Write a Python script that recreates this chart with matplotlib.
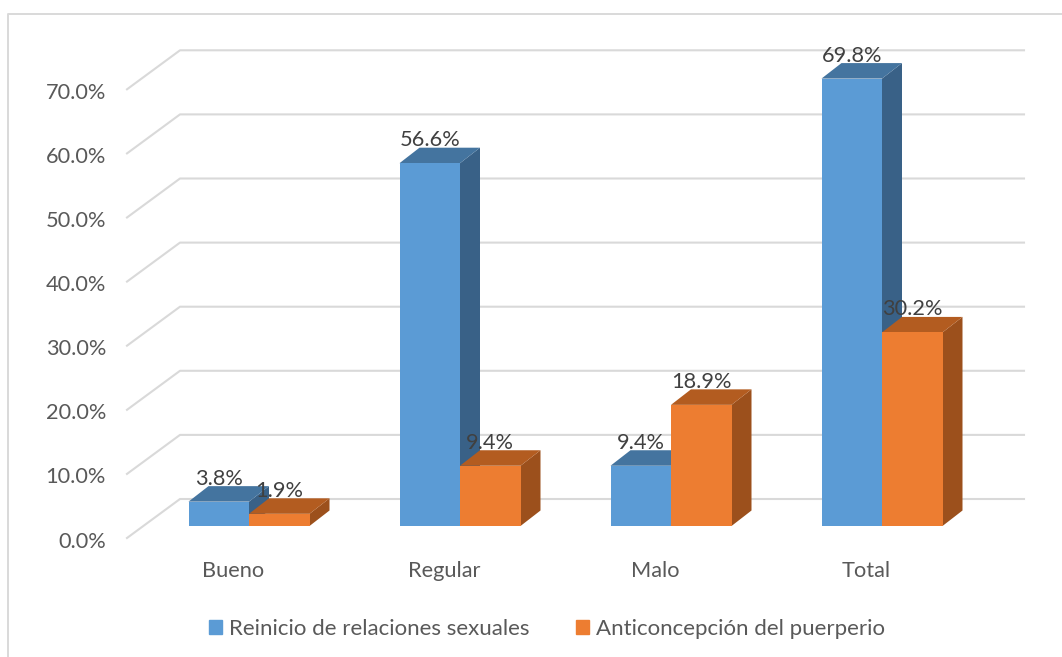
import matplotlib
matplotlib.use("Agg")
import matplotlib.pyplot as plt
from matplotlib.patches import Polygon, Patch, Rectangle

plt.rcParams['font.family'] = ['Lato', 'DejaVu Sans']

categories = ['Bueno', 'Regular', 'Malo', 'Total']
reinicio = [3.8, 56.6, 9.4, 69.8]
anticoncepcion = [1.9, 9.4, 18.9, 30.2]
y_ticks = [0, 10, 20, 30, 40, 50, 60, 70]
series_names = ['Reinicio de relaciones sexuales', 'Anticoncepción del puerperio']

# axes fills the figure, one x unit = one category, y unit = one percent
PX_X = 211.0
PX_Y = 6.41
W, H = 1062, 657
BAR_W = 60.5 / PX_X
DX = 20 / PX_X
DY = 15.5 / PX_Y
BACK_X0 = (180 - 249) / PX_X
BACK_X1 = (1024 - 249) / PX_X
BACK_Y = 27 / PX_Y
FRONT_X = (127 - 249) / PX_X
FRONT_Y = -12 / PX_Y

BLUE = ('#5B9BD5', '#44749F', '#396187')
ORANGE = ('#ED7D31', '#B35C20', '#9C501C')
FONT_SIZE = 15.7


def draw_bar(ax, x, val, cols):
    front, top, side = cols
    ax.add_patch(Polygon([(x + BAR_W, 0), (x + BAR_W + DX, DY), (x + BAR_W + DX, val + DY), (x + BAR_W, val)],
                         color=side, lw=0, zorder=3))
    ax.add_patch(Polygon([(x, val), (x + DX, val + DY), (x + BAR_W + DX, val + DY), (x + BAR_W, val)],
                         color=top, lw=0, zorder=3))
    ax.add_patch(Rectangle((x, 0), BAR_W, val, color=front, lw=0, zorder=3))


def main():
    fig = plt.figure(figsize=(W / 100, H / 100), dpi=100)
    ax = fig.add_axes([0, 0, 1, 1])
    ax.set_xlim(-249 / PX_X, (W - 249) / PX_X)
    ax.set_ylim((526 - H) / PX_Y, 526 / PX_Y)
    ax.axis('off')

    # outer chart border, the right side is cut off in the original
    fig.add_artist(plt.Line2D([8 / W, 8 / W, 1], [0, 1 - 14 / H, 1 - 14 / H],
                              color='#D9D9D9', lw=1.4))

    # walls and floor gridlines
    for t in y_ticks:
        ax.plot([FRONT_X, BACK_X0, BACK_X1], [t + FRONT_Y, t + BACK_Y, t + BACK_Y],
                color='#D9D9D9', lw=1.5, zorder=1)
        ax.text(-143 / PX_X, t + FRONT_Y - 3.5 / PX_Y, f'{t:.1f}%', ha='right', va='center',
                fontsize=FONT_SIZE, color='#595959')

    for i, cat in enumerate(categories):
        draw_bar(ax, i - BAR_W, reinicio[i], BLUE)
        draw_bar(ax, i, anticoncepcion[i], ORANGE)
        ax.text(i - 16 / PX_X, -45 / PX_Y, cat, ha='center', va='center',
                fontsize=FONT_SIZE, color='#595959')
        ax.text(i - BAR_W / 2, reinicio[i] + 23 / PX_Y, f'{reinicio[i]:.1f}%', ha='center', va='center',
                fontsize=FONT_SIZE, color='#404040', zorder=5)
        ax.text(i + BAR_W / 2, anticoncepcion[i] + 23 / PX_Y, f'{anticoncepcion[i]:.1f}%', ha='center', va='center',
                fontsize=FONT_SIZE, color='#404040', zorder=5)

    handles = [Patch(color=BLUE[0]), Patch(color=ORANGE[0])]
    ax.legend(handles, series_names, loc='center', bbox_to_anchor=(547 / W, 1 - 629 / H), ncol=2,
              frameon=False, fontsize=16, labelcolor='#595959', handlelength=0.6, handleheight=0.6,
              handletextpad=0.3, columnspacing=2.1)

    fig.savefig('out.png', dpi=100)


if __name__ == '__main__':
    main()
